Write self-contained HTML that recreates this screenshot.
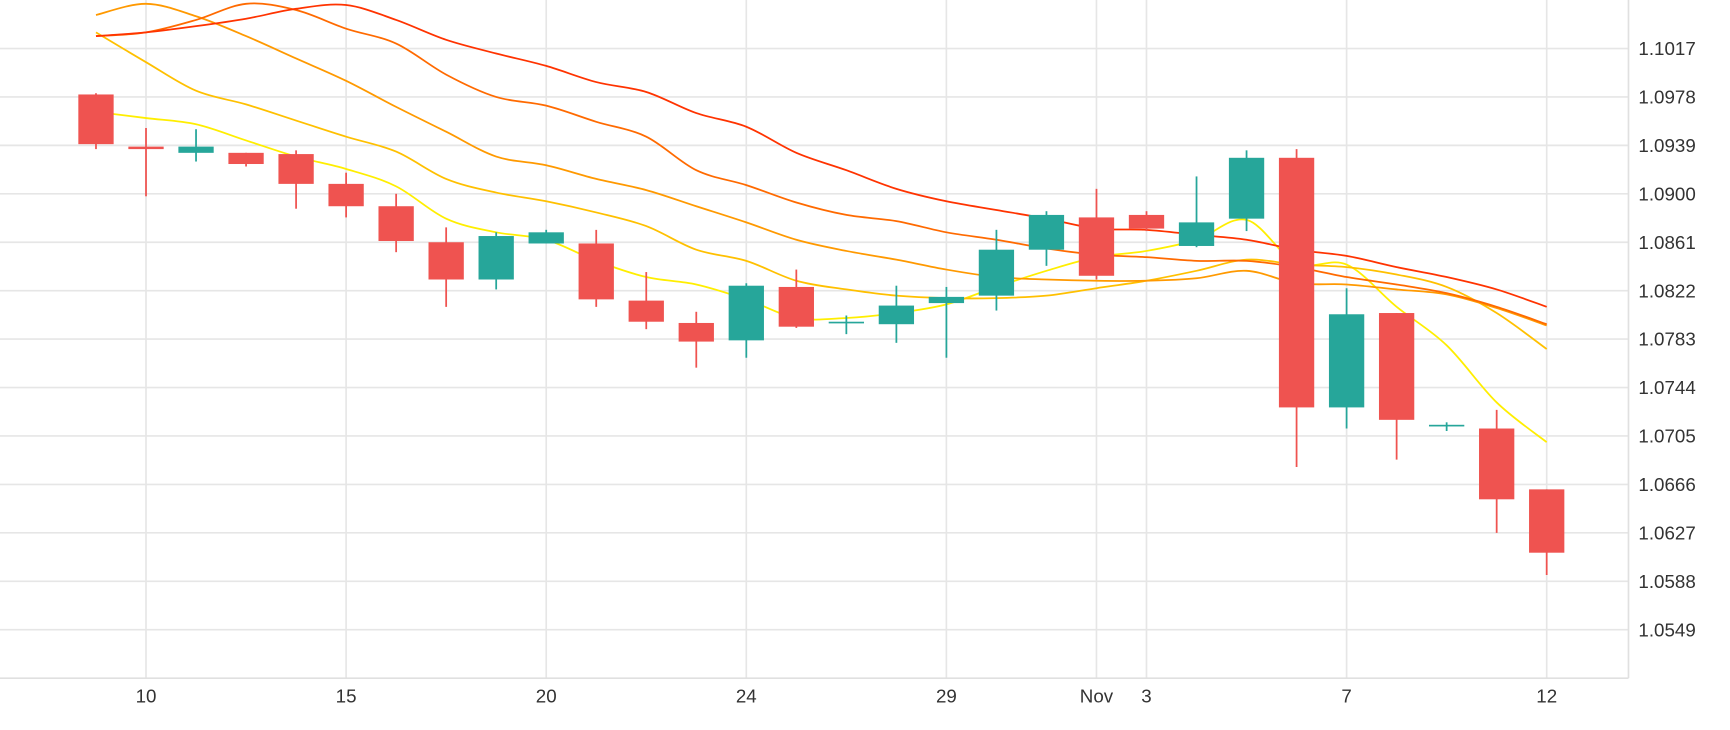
<!DOCTYPE html>
<html><head><meta charset="utf-8"><style>
html,body{margin:0;padding:0;background:#fff;}
svg{display:block;font-family:"Liberation Sans",sans-serif;}
</style></head><body>
<svg id="chart" width="1730" height="730" viewBox="0 0 1568 662" preserveAspectRatio="none" xmlns="http://www.w3.org/2000/svg">
<g id="grid"></g>
<g id="lines"></g>
<g id="candles"></g>
<g id="axes"></g>
</svg>
<script>
const opens  = [1.0980,1.0938,1.0933,1.0933,1.0932,1.0908,1.0890,1.0861,1.0831,1.0860,1.0860,1.0814,1.0796,1.0782,1.0825,1.0796,1.0795,1.0812,1.0818,1.0855,1.0881,1.0883,1.0858,1.0880,1.0929,1.0728,1.0804,1.0713,1.0711,1.0662];
const closes = [1.0940,1.0936,1.0938,1.0924,1.0908,1.0890,1.0862,1.0831,1.0866,1.0869,1.0815,1.0797,1.0781,1.0826,1.0793,1.0797,1.0810,1.0817,1.0855,1.0883,1.0834,1.0872,1.0877,1.0929,1.0728,1.0803,1.0718,1.0714,1.0654,1.0611];
const highs  = [1.0981,1.0953,1.0952,1.0933,1.0935,1.0917,1.0900,1.0873,1.0869,1.0871,1.0871,1.0837,1.0805,1.0828,1.0839,1.0802,1.0826,1.0825,1.0871,1.0886,1.0904,1.0886,1.0914,1.0935,1.0936,1.0824,1.0804,1.0716,1.0726,1.0662];
const lows   = [1.0936,1.0898,1.0926,1.0922,1.0888,1.0881,1.0853,1.0809,1.0823,1.0860,1.0809,1.0791,1.0760,1.0768,1.0792,1.0787,1.0780,1.0768,1.0806,1.0842,1.0831,1.0870,1.0857,1.0870,1.0680,1.0711,1.0686,1.0709,1.0627,1.0593];
const maRed     = [1.1027,1.1030,1.1035,1.1041,1.1049,1.1052,1.1040,1.1024,1.1013,1.1003,1.0990,1.0982,1.0965,1.0954,1.0933,1.0919,1.0904,1.0894,1.0887,1.0880,1.0872,1.0871,1.0867,1.0863,1.0855,1.0850,1.0841,1.0833,1.0823,1.0809];
const maDkOrange= [1.1027,1.1030,1.1040,1.1053,1.1048,1.1033,1.1021,1.0996,1.0978,1.0971,1.0958,1.0946,1.0919,1.0907,1.0893,1.0883,1.0878,1.0869,1.0863,1.0856,1.0851,1.0849,1.0846,1.0846,1.0841,1.0833,1.0827,1.0820,1.0809,1.0795];
const maOrange  = [1.1044,1.1053,1.1043,1.1027,1.1009,1.0991,1.0970,1.0950,1.0930,1.0923,1.0912,1.0903,1.0890,1.0877,1.0863,1.0854,1.0847,1.0839,1.0833,1.0831,1.0830,1.0830,1.0832,1.0838,1.0828,1.0827,1.0823,1.0819,1.0808,1.0794];
const maGold    = [1.1030,1.1006,1.0983,1.0972,1.0959,1.0946,1.0934,1.0912,1.0901,1.0894,1.0885,1.0874,1.0855,1.0846,1.0830,1.0823,1.0818,1.0816,1.0816,1.0818,1.0824,1.0830,1.0838,1.0847,1.0843,1.0841,1.0835,1.0825,1.0804,1.0775];
const maYellow  = [1.0966,1.0961,1.0956,1.0943,1.0930,1.0920,1.0906,1.0880,1.0869,1.0863,1.0846,1.0833,1.0827,1.0815,1.0800,1.0800,1.0804,1.0811,1.0825,1.0838,1.0849,1.0854,1.0863,1.0879,1.0844,1.0843,1.0809,1.0778,1.0732,1.0700];
const yTicks = [1.1017,1.0978,1.0939,1.0900,1.0861,1.0822,1.0783,1.0744,1.0705,1.0666,1.0627,1.0588,1.0549];
const xTickIdx = [1,5,9,13,17,20,21,25,29];
const xTickLabels = ["10","15","20","24","29","Nov","3","7","12"];

const NS="http://www.w3.org/2000/svg";
const X0=87, DX=45.34, PR=1476, PB=615;
const x = i => X0 + DX*i;
const y = v => 44 + (1.1017 - v)/0.0039*43.92;
function mk(tag, attrs, parent){const e=document.createElementNS(NS,tag);for(const k in attrs)e.setAttribute(k,attrs[k]);parent.appendChild(e);return e;}
const grid=document.getElementById('grid'), axes=document.getElementById('axes'), lines=document.getElementById('lines'), cg=document.getElementById('candles');

yTicks.forEach(t=>{
  const l=mk('line',{x1:0,x2:PR,y1:y(t),y2:y(t),stroke:'#e6e6e6','stroke-width':1.5},grid);
  
  
  const tx=mk('text',{x:1485,y:y(t)+6,'font-size':17,fill:'#333'},axes);
  tx.textContent=t.toFixed(4);
  
  
});
xTickIdx.forEach((idx,k)=>{
  const l=mk('line',{x1:x(idx),x2:x(idx),y1:0,y2:PB,stroke:'#e6e6e6','stroke-width':1.5},grid);
  
  
  const tx=mk('text',{x:x(idx),y:637,'font-size':17,fill:'#333','text-anchor':'middle'},axes);
  tx.textContent=xTickLabels[k];
  
  
});
const bx=mk('line',{x1:0,x2:PR,y1:PB,y2:PB,stroke:'#e0e0e0','stroke-width':1.5},axes);


const by=mk('line',{x1:PR,x2:PR,y1:0,y2:PB,stroke:'#e0e0e0','stroke-width':1.5},axes);



function smooth(vals){
  const p=vals.map((v,i)=>[x(i),y(v)]);
  let d=`M${p[0][0]},${p[0][1]}`;
  for(let i=0;i<p.length-1;i++){
    const p0=p[i-1]||p[i],p1=p[i],p2=p[i+1],p3=p[i+2]||p2;
    const c1=[p1[0]+(p2[0]-p0[0])/6,p1[1]+(p2[1]-p0[1])/6];
    const c2=[p2[0]-(p3[0]-p1[0])/6,p2[1]-(p3[1]-p1[1])/6];
    d+=` C${c1[0]},${c1[1]} ${c2[0]},${c2[1]} ${p2[0]},${p2[1]}`;
  }
  return d;
}
[[maYellow,'#ffee00','ma-yellow'],[maGold,'#ffc000','ma-gold'],[maOrange,'#ff9900','ma-orange'],[maDkOrange,'#ff6a00','ma-dark-orange'],[maRed,'#ff3300','ma-red']].forEach(([vals,col,name])=>{
  const pth=mk('path',{d:smooth(vals),fill:'none',stroke:col,'stroke-width':1.6},lines);
  
  
});

opens.forEach((o,i)=>{
  const c=closes[i], up=c>=o, col=up?'#26a69a':'#ef5350';
  const g=mk('g',{},cg);
  
  
  mk('line',{x1:x(i),x2:x(i),y1:y(highs[i]),y2:y(lows[i]),stroke:col,'stroke-width':1.6},g);
  const top=y(Math.max(o,c)), bot=y(Math.min(o,c));
  mk('rect',{x:x(i)-16,y:top,width:32,height:Math.max(bot-top,1.5),fill:col},g);
});
</script>
</body></html>
